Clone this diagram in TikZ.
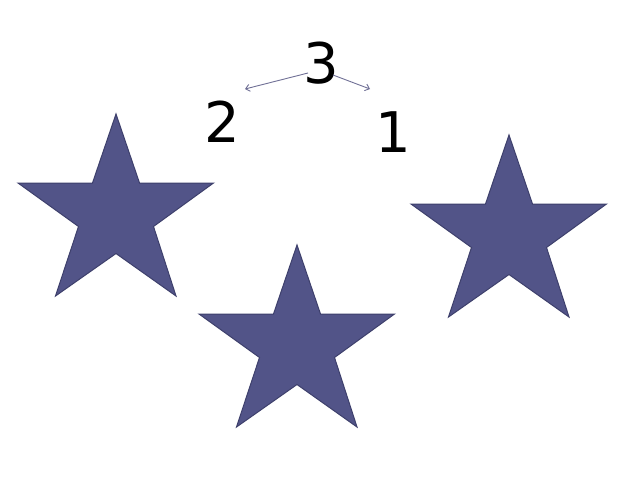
\documentclass[tikz,border=0pt]{standalone}
\usepackage{fontspec}
\setmainfont{DejaVu Sans}
\usetikzlibrary{arrows.meta}
\definecolor{starblue}{RGB}{82,84,136}
\definecolor{starline}{RGB}{62,64,108}
\definecolor{arrowcol}{RGB}{112,112,150}
\tikzset{
  starfill/.style={fill=starblue, draw=starline, line width=1pt, line join=miter},
  bigstar/.pic={
    \path[starfill] (0,1) -- (23.5,70) -- (97.5,70) -- (37.5,113.5) -- (60,183) -- (0,140.5)
      -- (-60.5,183) -- (-37.5,113.5) -- (-98,70) -- (-23.5,70) -- cycle;
  },
  digit/.style={font=\fontsize{56}{56}\selectfont, inner sep=0pt, anchor=base},
  pointer/.style={draw=arrowcol, line width=0.9pt, -{Straight Barb[length=4pt,width=7pt]}}
}
\begin{document}
\begin{tikzpicture}[x=1pt,y=-1pt]
\useasboundingbox[fill=white] (0,0) rectangle (640,480);
\pic at (116,113) {bigstar};
\pic at (297,244) {bigstar};
\pic at (509,134) {bigstar};
\node[digit] (three) at (321,83) {3};
\node[digit] (two) at (222.5,142) {2};
\node[digit] (one) at (393.5,152) {1};
\coordinate (threeL) at (308,73);
\coordinate (threeR) at (333,75);
\coordinate (endL) at (245,89);
\coordinate (endR) at (370,89);
\draw[pointer] (threeL) -- (endL);
\draw[pointer] (threeR) -- (endR);
\end{tikzpicture}
\end{document}
